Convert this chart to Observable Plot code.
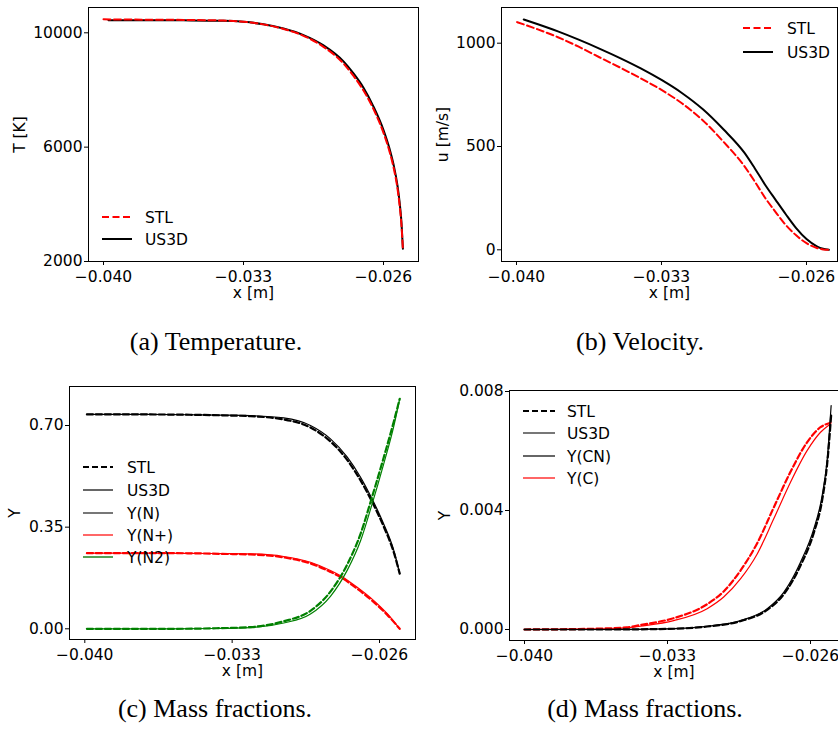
<!DOCTYPE html>
<html><head><meta charset="utf-8">
<script src="https://cdn.jsdelivr.net/npm/d3@7"></script>
<script src="https://cdn.jsdelivr.net/npm/@observablehq/plot@0.6"></script>
<style>
body{margin:0;background:#fff;}
#fig{position:relative;width:838px;height:735px;overflow:hidden;background:#fff;}
#fig > svg{position:absolute;}
</style></head><body><div id="fig"></div>
<script>
// ---------- tick labels ----------
const xTicks = [-0.040, -0.033, -0.026];
const tTicks = [2000, 6000, 10000];
const uTicks = [0, 500, 1000];
const yNTicks = [0.00, 0.35, 0.70];
const yCTicks = [0.000, 0.004, 0.008];

// ---------- (a) Temperature ----------
const xT_US3D = [-0.03975,-0.0380,-0.0360,-0.0340,-0.0330,-0.0320,-0.0310,-0.0300,-0.0290,-0.0280,-0.0275,-0.0270,-0.0265,-0.0260,-0.0257,-0.0255,-0.0253,-0.0252,-0.0251,-0.02503];
const T_US3D  = [10440,10440,10435,10420,10385,10300,10150,9920,9560,9000,8580,8080,7420,6600,5950,5400,4650,4100,3350,2450];
const xT_STL  = [-0.0400,-0.0380,-0.0360,-0.0340,-0.0330,-0.0320,-0.0310,-0.0300,-0.0290,-0.0280,-0.0275,-0.0270,-0.0265,-0.0260,-0.0257,-0.0255,-0.0253,-0.0252,-0.0251,-0.02503];
const T_STL   = [10470,10460,10450,10428,10388,10295,10135,9895,9510,8925,8490,7980,7330,6500,5850,5300,4550,4000,3250,2420];

// ---------- (b) Velocity ----------
const xU_US3D = [-0.03965,-0.039,-0.038,-0.037,-0.036,-0.035,-0.034,-0.033,-0.032,-0.031,-0.030,-0.029,-0.0285,-0.028,-0.0275,-0.027,-0.0265,-0.026,-0.0255,-0.0252,-0.02492];
const U_US3D  = [1115,1093,1057,1017,974,928,878,822,758,680,582,470,395,315,243,172,105,52,17,5,0];
const xU_STL  = [-0.03997,-0.039,-0.038,-0.037,-0.036,-0.035,-0.034,-0.033,-0.032,-0.031,-0.030,-0.029,-0.0285,-0.028,-0.0275,-0.027,-0.0265,-0.026,-0.0255,-0.0252,-0.02492];
const U_STL   = [1102,1068,1029,983,932,882,830,774,708,626,522,405,331,252,184,120,70,32,9,2,0];

// ---------- (c) Mass fractions N, N+, N2 ----------
const xN       = [-0.0399,-0.0370,-0.0350,-0.0335,-0.03213,-0.03055,-0.02928,-0.02833,-0.02753,-0.0269,-0.02635,-0.0258,-0.02532,-0.02504];
const YN_US3D  = [0.738,0.738,0.737,0.736,0.734,0.726,0.700,0.654,0.591,0.522,0.447,0.361,0.270,0.191];
const YN_STL   = [0.738,0.738,0.737,0.735,0.732,0.721,0.693,0.645,0.581,0.511,0.437,0.352,0.263,0.190];
const xNp      = [-0.0399,-0.0370,-0.0350,-0.0335,-0.03213,-0.03055,-0.02928,-0.02833,-0.02785,-0.02706,-0.02627,-0.02563,-0.02504];
const YNp_US3D = [0.2605,0.2605,0.2600,0.2590,0.258,0.249,0.229,0.201,0.183,0.143,0.097,0.052,0.0];
const YNp_STL  = [0.2605,0.2605,0.2600,0.2580,0.256,0.246,0.225,0.196,0.178,0.138,0.092,0.048,0.0];
const xN2      = [-0.0399,-0.0360,-0.0340,-0.03213,-0.03055,-0.02928,-0.02833,-0.02753,-0.0269,-0.02635,-0.0258,-0.02532,-0.02504];
const YN2_US3D = [0,0,0.001,0.004,0.020,0.051,0.112,0.202,0.303,0.430,0.568,0.698,0.792];
const YN2_STL  = [0,0,0.0015,0.006,0.026,0.062,0.128,0.222,0.327,0.455,0.590,0.714,0.792];

// ---------- (d) Mass fractions C, CN ----------
const xC       = [-0.0400,-0.0370,-0.0350,-0.03433,-0.0327,-0.03106,-0.03025,-0.02943,-0.02861,-0.0278,-0.02698,-0.02616,-0.02551,-0.02502];
const YC_US3D  = [0,0.00001,0.00005,0.00011,0.0003,0.0007,0.00109,0.0017,0.00254,0.00372,0.00495,0.00602,0.00663,0.00691];
const YC_STL   = [0,0.00002,0.00007,0.00015,0.00038,0.00085,0.00128,0.00198,0.0029,0.0041,0.0053,0.0063,0.0068,0.00695];
const xCN      = [-0.0400,-0.0360,-0.0330,-0.03106,-0.02943,-0.02812,-0.02731,-0.02649,-0.02584,-0.02543,-0.02518,-0.02499];
const YCN_US3D = [0,0,0.00002,0.00011,0.0003,0.0007,0.00125,0.00226,0.00338,0.0045,0.00574,0.00753];
const YCN_STL  = [0,0,0.00002,0.0001,0.00028,0.00066,0.00118,0.00215,0.00325,0.00435,0.0056,0.0072];

// ---------- helpers ----------
const FONT = "DejaVu Sans";
const FS = 15.5;
const fig = document.getElementById("fig");
const zip = (xs, ys) => xs.map((x, i) => ({x, y: ys[i]}));
const fmt = d3.format(".3f");

function panel(o) {
  const marks = [
    Plot.frame({stroke: "black", strokeWidth: 1}),
    Plot.axisX({ticks: xTicks, tickFormat: fmt, tickSize: 4, tickPadding: 5, label: null}),
    Plot.axisY({ticks: o.yTicks, tickFormat: o.yFormat, tickSize: 4, tickPadding: 2, label: null}),
    ...o.series.map(s => Plot.line(zip(s.x, s.y), {
      x: "x", y: "y", stroke: s.stroke, strokeWidth: s.w,
      strokeDasharray: s.dash || null, curve: "monotone-x"
    })),
    Plot.text(["x [m]"], {frameAnchor: "bottom", dy: 32, lineAnchor: "middle", textAnchor: "middle", text: d => d, fontSize: FS}),
    Plot.text([o.ylabel], {frameAnchor: "left", dx: o.ylabelDx, rotate: -90, lineAnchor: "middle", textAnchor: "middle", text: d => d, fontSize: FS})
  ];
  const svg = Plot.plot({
    width: o.width, height: o.height,
    marginLeft: o.m[0], marginRight: o.m[1], marginTop: o.m[2], marginBottom: o.m[3],
    x: {domain: o.xDomain},
    y: {domain: o.yDomain},
    style: {fontFamily: FONT, fontSize: FS + "px", background: "transparent", overflow: "visible", color: "black"},
    marks
  });
  svg.style.position = "absolute";
  svg.style.left = o.left + "px";
  svg.style.top = o.top + "px";
  svg.style.maxWidth = "none";
  fig.appendChild(svg);
}

panel({
  left: 0, top: 0, width: 420, height: 300, m: [88, 2, 7, 39],
  xDomain: [-0.04075, -0.02425], yDomain: [2000, 10885],
  yTicks: tTicks, yFormat: d3.format("d"), ylabel: "T [K]", ylabelDx: -68,
  series: [
    {x: xT_US3D, y: T_US3D, stroke: "black", w: 2},
    {x: xT_STL, y: T_STL, stroke: "red", w: 2, dash: "7,3.5"}
  ]
});
panel({
  left: 420, top: 0, width: 418, height: 300, m: [81, 1, 7, 39],
  xDomain: [-0.040724, -0.024503], yDomain: [-56.6, 1172.8],
  yTicks: uTicks, yFormat: d3.format("d"), ylabel: "u [m/s]", ylabelDx: -58,
  series: [
    {x: xU_US3D, y: U_US3D, stroke: "black", w: 2},
    {x: xU_STL, y: U_STL, stroke: "red", w: 2, dash: "7,3.5"}
  ]
});
panel({
  left: 0, top: 370, width: 420, height: 330, m: [69, 5, 16, 61],
  xDomain: [-0.040727, -0.02429], yDomain: [-0.0368, 0.8343],
  yTicks: yNTicks, yFormat: d3.format(".2f"), ylabel: "Y", ylabelDx: -54,
  series: [
    {x: xN, y: YN_STL, stroke: "black", w: 2.2, dash: "6,3"},
    {x: xN, y: YN_US3D, stroke: "black", w: 1.2},
    {x: xNp, y: YNp_STL, stroke: "red", w: 2.2, dash: "6,3"},
    {x: xNp, y: YNp_US3D, stroke: "red", w: 1.2},
    {x: xN2, y: YN2_STL, stroke: "#008000", w: 2.2, dash: "6,3"},
    {x: xN2, y: YN2_US3D, stroke: "#008000", w: 1.2}
  ]
});
panel({
  left: 420, top: 370, width: 418, height: 330, m: [89, 0, 20, 60],
  xDomain: [-0.040735, -0.02463], yDomain: [-0.00037, 0.008034],
  yTicks: yCTicks, yFormat: d3.format(".3f"), ylabel: "Y", ylabelDx: -64,
  series: [
    {x: xC, y: YC_STL, stroke: "red", w: 2.2, dash: "6,3"},
    {x: xC, y: YC_US3D, stroke: "red", w: 1.2},
    {x: xCN, y: YCN_STL, stroke: "black", w: 2.2, dash: "6,3"},
    {x: xCN, y: YCN_US3D, stroke: "black", w: 1.2}
  ]
});

// ---------- legends & captions overlay ----------
const ov = d3.select(fig).append("svg")
  .attr("width", 838).attr("height", 735)
  .style("position", "absolute").style("left", "0px").style("top", "0px");

function legend(x0, x1, tx, items) {
  for (const it of items) {
    ov.append("line").attr("x1", x0).attr("x2", x1).attr("y1", it.y).attr("y2", it.y)
      .attr("stroke", it.stroke).attr("stroke-width", it.w)
      .attr("stroke-dasharray", it.dash || null);
    ov.append("text").attr("x", tx).attr("y", it.y + 5.6)
      .attr("font-family", FONT).attr("font-size", FS).attr("fill", "black").text(it.label);
  }
}
legend(102, 132, 145, [
  {y: 217, label: "STL", stroke: "red", w: 2, dash: "7,3.5"},
  {y: 239, label: "US3D", stroke: "black", w: 2}
]);
legend(743, 773, 787, [
  {y: 28, label: "STL", stroke: "red", w: 2, dash: "7,3.5"},
  {y: 52, label: "US3D", stroke: "black", w: 2}
]);
legend(83, 113, 127, [
  {y: 467, label: "STL", stroke: "black", w: 2.2, dash: "6,3"},
  {y: 490, label: "US3D", stroke: "black", w: 1.2},
  {y: 513, label: "Y(N)", stroke: "#555", w: 1.6},
  {y: 535, label: "Y(N+)", stroke: "red", w: 1.2},
  {y: 557, label: "Y(N2)", stroke: "#2a8a2a", w: 1.6}
]);
legend(523, 555, 567, [
  {y: 411, label: "STL", stroke: "black", w: 2.2, dash: "6,3"},
  {y: 433, label: "US3D", stroke: "#555", w: 1.6},
  {y: 456, label: "Y(CN)", stroke: "black", w: 1.2},
  {y: 478, label: "Y(C)", stroke: "red", w: 1.2}
]);

const captions = [
  {x: 216, y: 350, t: "(a) Temperature."},
  {x: 640, y: 350, t: "(b) Velocity."},
  {x: 215, y: 717, t: "(c) Mass fractions."},
  {x: 645, y: 717, t: "(d) Mass fractions."}
];
for (const c of captions) {
  ov.append("text").attr("x", c.x).attr("y", c.y).attr("text-anchor", "middle")
    .attr("font-family", "Liberation Serif").attr("font-size", 26).attr("fill", "black").text(c.t);
}
</script>
</body></html>
